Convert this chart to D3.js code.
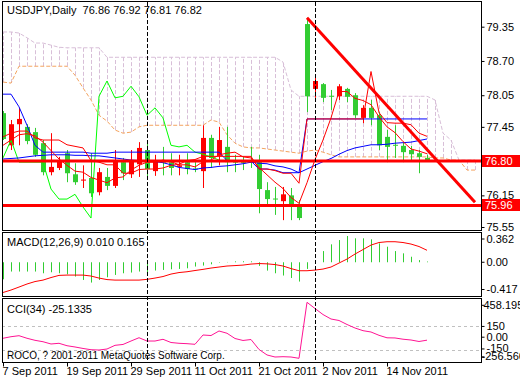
<!DOCTYPE html>
<html>
<head>
<meta charset="utf-8">
<script src="https://cdnjs.cloudflare.com/ajax/libs/d3/7.8.5/d3.min.js"></script>
<style>
  body { margin: 0; background: #fff; }
  svg { display: block; }
  text { font-family: 'Liberation Sans Narrow', 'Liberation Sans', sans-serif; font-size: 11px; fill: #000; }
</style>
</head>
<body>
<svg id="vis" width="520" height="380"></svg>
<script>
// daily bars, USDJPY
const dates = ['2011-09-07','2011-09-08','2011-09-09','2011-09-12','2011-09-13','2011-09-14','2011-09-15','2011-09-16',
  '2011-09-19','2011-09-20','2011-09-21','2011-09-22','2011-09-23','2011-09-26','2011-09-27','2011-09-28',
  '2011-09-29','2011-09-30','2011-10-03','2011-10-04','2011-10-05','2011-10-06','2011-10-07','2011-10-10',
  '2011-10-11','2011-10-12','2011-10-13','2011-10-14','2011-10-17','2011-10-18','2011-10-19','2011-10-20',
  '2011-10-21','2011-10-24','2011-10-25','2011-10-26','2011-10-27','2011-10-28','2011-10-31','2011-11-01',
  '2011-11-02','2011-11-03','2011-11-04','2011-11-07','2011-11-08','2011-11-09','2011-11-10','2011-11-11',
  '2011-11-14','2011-11-15','2011-11-16','2011-11-17','2011-11-18','2011-11-21'];

const open = [77.71,77.10,77.50,77.45,77.35,77.14,76.59,76.67,76.95,76.55,76.43,76.48,76.21,76.50,76.33,76.78,
  76.55,76.74,77.01,76.61,76.79,76.78,76.69,76.78,76.66,76.61,77.24,76.90,77.07,76.79,76.78,76.79,
  76.78,76.25,76.09,76.04,76.15,75.96,79.40,78.17,78.26,78.04,78.03,78.17,78.05,77.62,77.81,77.67,
  77.26,77.11,77.09,77.01,76.95,76.86];
const high = [77.75,77.58,77.81,77.50,77.43,77.20,77.33,76.88,77.01,76.76,76.72,76.95,76.67,76.67,77.01,76.86,
  77.01,77.16,77.18,76.92,77.07,76.95,76.92,76.95,76.78,77.48,77.30,77.45,77.45,76.92,76.88,77.07,
  76.92,76.40,76.31,76.31,76.29,76.06,79.52,78.43,78.28,78.15,78.26,78.19,78.09,77.86,77.96,77.73,
  77.39,77.48,77.16,77.09,77.01,76.92];
const low = [77.20,77.01,77.10,77.12,76.88,76.53,76.53,76.63,76.40,76.35,76.29,76.12,76.15,76.25,76.29,76.44,
  76.48,76.50,76.50,76.52,76.53,76.53,76.53,76.55,76.59,76.29,76.67,76.72,76.59,76.59,76.63,76.67,
  75.81,75.96,75.78,75.68,75.68,75.68,77.73,78.00,77.92,77.77,77.96,77.92,77.62,77.52,77.48,77.01,
  76.78,76.86,76.78,76.82,76.57,76.81];
const close = [77.22,77.50,77.60,77.18,76.92,76.59,76.69,76.82,76.57,76.40,76.45,76.19,76.59,76.33,76.82,76.57,
  76.82,77.05,76.65,76.82,76.78,76.67,76.72,76.65,76.65,77.24,76.86,77.20,76.78,76.78,76.78,76.78,
  76.27,76.08,76.08,76.17,75.93,75.72,78.03,78.32,78.00,78.03,78.22,78.02,77.67,77.81,77.62,77.10,
  77.07,77.10,76.97,76.93,76.88,76.82];

// ichimoku
const tenkan = [77.26,77.33,77.37,77.37,77.24,77.20,77.20,77.20,77.11,77.08,77.05,76.81,76.78,76.73,76.73,76.57,
  76.57,76.64,76.65,76.65,76.67,76.72,76.74,76.81,76.83,76.89,76.89,76.89,76.89,76.89,76.89,76.89,
  76.65,76.65,76.62,76.57,76.57,76.38,77.60,77.60,77.60,77.60,77.60,77.60,77.60,77.60,78.50,77.72,
  77.53,77.52,77.52,77.49,77.33,77.27];
const kijun = [78.07,78.07,77.83,77.48,77.10,76.97,76.97,76.97,76.97,76.97,76.97,76.95,76.95,76.95,76.97,76.97,
  76.97,76.97,76.97,76.97,76.97,76.97,76.97,76.97,76.97,76.97,76.97,76.97,76.81,76.80,76.80,76.80,
  76.65,76.65,76.63,76.58,76.58,76.58,77.60,77.60,77.60,77.60,77.60,77.60,77.60,77.60,77.60,77.60,
  77.60,77.60,77.60,77.60,77.60,77.60];
const spanA = [78.30,78.28,78.60,78.60,78.60,78.60,78.60,78.60,78.60,78.43,78.19,77.96,77.67,77.56,77.39,77.33,
  77.35,77.45,77.48,77.48,77.48,77.48,77.48,77.48,77.48,77.48,77.58,77.54,77.30,77.14,77.07,77.05,
  77.05,77.03,77.01,76.99,76.97,76.95,76.99,77.01,76.97,76.92,76.88,76.88,76.88,76.88,76.88,76.88,
  76.88,76.88,76.88,76.88,76.88,76.88,76.86,76.86,76.82,76.82,76.63,76.63];
const spanB = [79.25,79.25,79.23,79.14,79.04,79.04,79.00,78.96,78.95,78.95,78.95,78.95,78.95,78.77,78.77,78.77,
  78.77,78.77,78.77,78.77,78.77,78.77,78.77,78.77,78.77,78.77,78.77,78.77,78.77,78.77,78.77,78.77,
  78.77,78.77,78.77,78.68,78.15,78.03,78.03,78.03,78.03,78.03,78.03,78.03,78.03,78.03,78.03,78.03,
  78.03,78.03,78.03,78.03,78.03,78.03,77.96,77.33,77.20,76.82,76.82,76.82];
const chikouShift = 26;

// moving averages
const maSlow = [76.84,76.85,76.86,76.88,76.90,76.91,76.92,76.92,76.92,76.91,76.91,76.90,76.90,76.88,76.86,76.84,
  76.82,76.81,76.80,76.79,76.77,76.73,76.68,76.66,76.64,76.67,76.68,76.70,76.71,76.73,76.75,76.78,
  76.76,76.75,76.71,76.69,76.65,76.58,76.65,76.72,76.79,76.85,76.93,77.00,77.05,77.08,77.11,77.11,
  77.12,77.14,77.15,77.16,77.19,77.22];
const maFast = [77.10,77.20,77.30,77.32,77.28,77.16,77.00,76.84,76.72,76.61,76.59,76.49,76.44,76.39,76.48,76.50,
  76.63,76.72,76.78,76.78,76.82,76.79,76.73,76.73,76.69,76.79,76.82,76.92,76.95,76.97,76.88,76.86,
  76.68,76.54,76.40,76.28,76.11,76.00,76.39,76.83,77.20,77.62,78.12,78.12,77.99,77.95,77.87,77.64,
  77.45,77.34,77.17,77.03,76.99,76.94];

// MACD(12,26,9)
const macdMain = [-0.235,-0.128,-0.128,-0.128,-0.128,-0.152,-0.138,-0.152,-0.166,-0.197,-0.244,-0.28,-0.244,-0.207,-0.175,-0.152,
  -0.142,-0.128,-0.152,-0.114,-0.106,-0.097,-0.092,-0.083,-0.059,-0.046,-0.028,-0.006,0.004,0.012,0.014,0.012,
  -0.05,-0.115,-0.152,-0.183,-0.217,-0.266,-0.092,0.03,0.154,0.247,0.306,0.362,0.33,0.33,0.316,0.26,
  0.214,0.154,0.123,0.076,0.03,0.010];
const macdSignal = [-0.417,-0.383,-0.342,-0.30,-0.266,-0.246,-0.211,-0.181,-0.177,-0.177,-0.177,-0.19,-0.218,-0.239,-0.246,-0.246,
  -0.246,-0.246,-0.236,-0.218,-0.197,-0.163,-0.142,-0.131,-0.114,-0.098,-0.08,-0.066,-0.052,-0.046,-0.039,-0.025,
  -0.018,-0.022,-0.032,-0.052,-0.087,-0.117,-0.117,-0.108,-0.094,-0.066,-0.011,0.044,0.113,0.175,0.237,0.272,
  0.283,0.283,0.272,0.251,0.217,0.165];

// CCI(34)
const cci = [-1,19,32,-1,-27,-45,-74,-65,-96,-112,-131,-147,-151,-138,-91,-80,
  -36,6,-36,-36,-14,-55,-65,-70,-78,41,34,92,63,-4,-29,-17,
  -144,-214,-240,-236,-240,-256.566,458.1958,379,302,245,226,175,130,96,79,37,
  5,3,-13,-23,-42,-25.1335];
const cciLevels = [150, -150];

// axis ticks and chart objects
const priceTicks = [79.35, 78.70, 78.05, 77.45, 76.80, 76.15, 75.55];
const macdTicks = [0.362, 0, -0.417];
const macdTickLabels = ['0.362', '0.00', '-0.417'];
const cciTicks = [458.1958, 150, 0, -150, -256.566];
const cciTickLabels = ['458.1958', '150', '0.00', '-150', '-256.566'];
const dateTickBars = [0, 8, 16, 24, 32, 40, 48];
const hLevels = [76.80, 75.96];
const vLineBars = [18, 39];
const trendLine = [{ bar: 38, price: 79.52 }, { bar: 59, price: 76.02 }];

const svg = d3.select('#vis');
const left = 2, right = 481;
const main = { top: 1, bottom: 230 }, sub1 = { top: 232, bottom: 296 }, sub2 = { top: 298, bottom: 362 };

const x = d3.scaleLinear().domain([0, 59]).range([3, 475]);
const yP = d3.scaleLinear().domain([75.55, 79.35]).range([227, 26.7]);
const yM = d3.scaleLinear().domain([-0.417, 0.362]).range([292.5, 236]);
const yC = d3.scaleLinear().domain([-256.566, 458.1958]).range([358.3, 302.3]);

const defs = svg.append('defs');
[['clipMain', main], ['clipMacd', sub1], ['clipCci', sub2]].forEach(([id, p]) => {
  defs.append('clipPath').attr('id', id).append('rect')
    .attr('x', left + 1).attr('y', p.top + 1)
    .attr('width', right - left - 1).attr('height', p.bottom - p.top - 1);
});

const gMain = svg.append('g').attr('clip-path', 'url(#clipMain)');
const gMacd = svg.append('g').attr('clip-path', 'url(#clipMacd)');
const gCci = svg.append('g').attr('clip-path', 'url(#clipCci)');

const px = i => Math.round(x(i)) + 0.5;

// cloud hatch
gMain.selectAll('line.cloud')
  .data(spanA)
  .enter()
  .append('line')
  .attr('x1', (d, i) => px(i)).attr('x2', (d, i) => px(i))
  .attr('y1', d => yP(d))
  .attr('y2', (d, i) => yP(spanB[i]))
  .attr('stroke', '#D8BFD8')
  .attr('stroke-dasharray', '4,2');

const priceLine = d3.line().x((d, i) => x(i)).y(d => yP(d));
const addLine = (g, data, line, color, dash, w) => g.append('path')
  .datum(data)
  .attr('d', line)
  .attr('fill', 'none')
  .attr('stroke', color)
  .attr('stroke-width', w || 1)
  .attr('stroke-dasharray', dash || null);

addLine(gMain, spanB, priceLine, '#D8BFD8', '4,2');
addLine(gMain, spanA, priceLine, '#F4A460', '4,2');

// candles
const bars = gMain.selectAll('g.bar')
  .data(close)
  .enter()
  .append('g');
bars.append('line')
  .attr('x1', (d, i) => px(i)).attr('x2', (d, i) => px(i))
  .attr('y1', (d, i) => yP(high[i]))
  .attr('y2', (d, i) => yP(low[i]))
  .attr('stroke', (d, i) => d > open[i] ? '#FF0000' : '#32CD32');
bars.append('rect')
  .attr('x', (d, i) => Math.round(x(i)) - 2)
  .attr('width', 5)
  .attr('y', (d, i) => yP(Math.max(d, open[i])))
  .attr('height', (d, i) => Math.max(1, Math.abs(yP(d) - yP(open[i]))))
  .attr('fill', (d, i) => d > open[i] ? '#FF0000' : '#32CD32');

// chikou span: close plotted 26 bars back
addLine(gMain, close.slice(chikouShift), priceLine, '#00FF00');

addLine(gMain, maSlow, priceLine, '#0000FF');
addLine(gMain, kijun, priceLine, '#0000FF');
addLine(gMain, maFast, priceLine, '#FF0000');
addLine(gMain, tenkan, priceLine, '#FF0000');

// horizontal levels and trend line
gMain.selectAll('line.hl')
  .data(hLevels)
  .enter()
  .append('line')
  .attr('x1', left).attr('x2', right)
  .attr('y1', d => yP(d)).attr('y2', d => yP(d))
  .attr('stroke', '#FF0000')
  .attr('stroke-width', 3);

gMain.append('line')
  .attr('x1', x(trendLine[0].bar)).attr('y1', yP(trendLine[0].price))
  .attr('x2', x(trendLine[1].bar)).attr('y2', yP(trendLine[1].price))
  .attr('stroke', '#FF0000')
  .attr('stroke-width', 3);

// MACD
gMacd.selectAll('line.hist')
  .data(macdMain)
  .enter()
  .append('line')
  .attr('x1', (d, i) => px(i)).attr('x2', (d, i) => px(i))
  .attr('y1', yM(0)).attr('y2', d => yM(d))
  .attr('stroke', '#32CD32');
addLine(gMacd, macdSignal, d3.line().x((d, i) => x(i)).y(d => yM(d)), '#FF0000');

// CCI
gCci.selectAll('line.lvl')
  .data(cciLevels)
  .enter()
  .append('line')
  .attr('x1', left).attr('x2', right)
  .attr('y1', d => Math.round(yC(d)) + 0.5).attr('y2', d => Math.round(yC(d)) + 0.5)
  .attr('stroke', '#C0C0C0')
  .attr('stroke-dasharray', '3,3');
addLine(gCci, cci, d3.line().x((d, i) => x(i)).y(d => yC(d)), '#FF1493');

// vertical dashed lines
svg.selectAll('line.vl')
  .data(vLineBars)
  .enter()
  .append('line')
  .attr('x1', d => px(d)).attr('x2', d => px(d))
  .attr('y1', 2).attr('y2', sub2.bottom)
  .attr('stroke', '#000')
  .attr('stroke-dasharray', '4,2');

// frames
[main, sub1, sub2].forEach(p => {
  svg.append('rect')
    .attr('x', left + 0.5).attr('y', p.top + 0.5)
    .attr('width', right - left).attr('height', p.bottom - p.top)
    .attr('fill', 'none')
    .attr('stroke', '#000');
});

// right axes; min/max labels of the sub windows sit a little inside the frame
function rightAxis(scale, values, labels, shift) {
  const g = svg.append('g')
    .attr('transform', 'translate(' + (right + 0.5) + ',0)')
    .call(d3.axisRight(scale).tickValues(values).tickSize(3).tickPadding(2)
      .tickFormat((d, i) => labels[i]));
  g.select('.domain').remove();
  g.selectAll('text').attr('font-family', null).attr('font-size', null);
  g.selectAll('line').attr('stroke', '#000');
  if (shift) {
    g.selectAll('.tick').attr('transform', (d, i) => 'translate(0,' + (scale(d) + shift[i]) + ')');
  }
  return g;
}
rightAxis(yP, priceTicks, priceTicks.map(d => d.toFixed(2)));
rightAxis(yM, macdTicks, macdTickLabels, [3, 0, -3]);
const cciAxis = rightAxis(yC, cciTicks, cciTickLabels, [3, 0, -1, -1, -1.5]);
cciAxis.selectAll('text').attr('x', (d, i) => i === 4 ? 0 : (i === 0 ? 2 : 5));

// price tags of the horizontal levels
const tags = svg.selectAll('g.tag')
  .data(hLevels)
  .enter()
  .append('g');
tags.append('rect')
  .attr('x', right + 1).attr('y', d => Math.round(yP(d)) - 6)
  .attr('width', 38).attr('height', 12)
  .attr('fill', '#FF0000');
tags.append('text')
  .attr('x', right + 4).attr('y', d => Math.round(yP(d)) + 4)
  .style('fill', '#fff')
  .text(d => d.toFixed(2));

// date axis
const parse = d3.timeParse('%Y-%m-%d');
const fmt = d3.timeFormat('%-d %b %Y');
const dAxis = svg.append('g')
  .attr('transform', 'translate(0,' + (sub2.bottom + 0.5) + ')')
  .call(d3.axisBottom(x).tickValues(dateTickBars).tickSize(4).tickPadding(1)
    .tickFormat(i => fmt(parse(dates[i]))));
dAxis.select('.domain').remove();
dAxis.selectAll('.tick').attr('transform', d => 'translate(' + px(d) + ',0)');
dAxis.selectAll('line').attr('stroke', '#000');
dAxis.selectAll('text').attr('font-family', null).attr('font-size', null)
  .attr('text-anchor', 'start').attr('x', -1);

// labels
svg.append('text').attr('x', 7).attr('y', 14).text('USDJPY,Daily  76.86 76.92 76.81 76.82')
  .attr('xml:space', 'preserve');
svg.append('text').attr('x', 7).attr('y', 246).text('MACD(12,26,9) 0.010 0.165');
svg.append('text').attr('x', 7).attr('y', 313).text('CCI(34) -25.1335');
svg.append('text').attr('x', 7).attr('y', 359).style('font-size', '10px')
  .text('ROCO, ? 2001-2011 MetaQuotes Software Corp.');
</script>
</body>
</html>
